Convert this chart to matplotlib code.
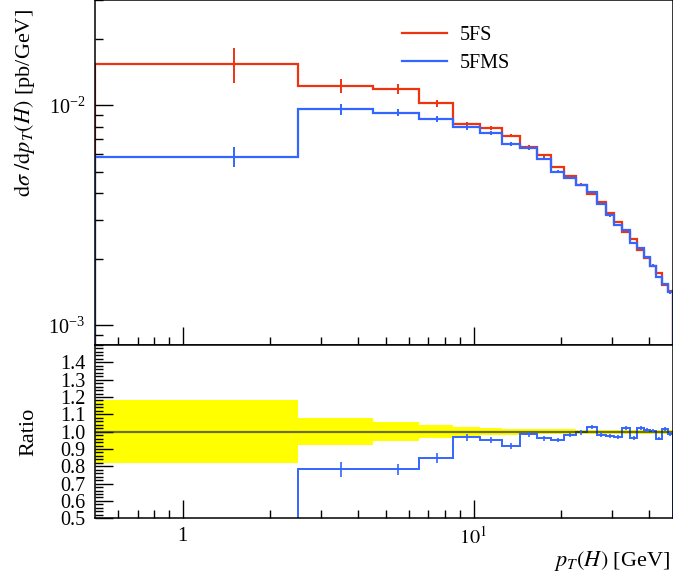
import numpy as np
import matplotlib
matplotlib.use("Agg")
import matplotlib.pyplot as plt
from matplotlib.ticker import FixedLocator, FuncFormatter, MultipleLocator, NullFormatter

plt.rcParams['font.family'] = ['Liberation Serif', 'DejaVu Serif']
plt.rcParams['mathtext.fontset'] = 'stix'

# bin edges in pT(H) [GeV]
edges = [0.5, 2.5, 4.5, 6.5, 8.5, 10.5, 12.5, 14.5, 16.5, 18.5, 20.5, 22.5, 24.5,
         26.5, 28.5, 30.5, 32.5, 34.5, 36.5, 38.5, 40.5, 42.5, 44.5, 46.5, 48.5]

# dsigma/dpT [pb/GeV]
fs5 = [0.01540, 0.01228, 0.01186, 0.01024, 0.00820, 0.00789, 0.00727, 0.00648,
       0.00594, 0.00524, 0.00477, 0.00436, 0.00394, 0.00362, 0.00324, 0.00295,
       0.00266, 0.00246, 0.00219, 0.00202, 0.00186, 0.00173, 0.00152, 0.00143]
fms5 = [0.00584, 0.00960, 0.00927, 0.00868, 0.00793, 0.00751, 0.00668, 0.00638,
        0.00571, 0.00499, 0.00467, 0.00434, 0.00404, 0.00356, 0.00316, 0.00286,
        0.00271, 0.00237, 0.00224, 0.00204, 0.00187, 0.00166, 0.00154, 0.00141]

# relative errors
fs5_relerr = [0.18, 0.077, 0.055, 0.037, 0.027, 0.021, 0.018, 0.016, 0.015, 0.014,
              0.013, 0.012, 0.012, 0.012, 0.012, 0.011, 0.011, 0.011, 0.011, 0.011,
              0.011, 0.011, 0.011, 0.011]
fms5_relerr = [0.105, 0.057, 0.040, 0.031, 0.022, 0.020, 0.018, 0.016, 0.015, 0.014,
               0.013, 0.013, 0.012, 0.012, 0.012, 0.011, 0.011, 0.011, 0.011, 0.011,
               0.011, 0.011, 0.011, 0.011]

red = '#EE3311'
blue = '#3366FF'

e = np.array(edges)
mid = 0.5 * (e[:-1] + e[1:])
r = np.array(fs5)
b = np.array(fms5)
rerr = np.array(fs5_relerr)
berr = np.array(fms5_relerr)

fig = plt.figure(figsize=(6.73, 5.8), dpi=100)
ax = fig.add_axes([0.1412, 0.4052, 0.8588, 0.5948])
axr = fig.add_axes([0.1412, 0.1064, 0.8588, 0.2988], sharex=ax)

# main panel
ax.stairs(r, e, color=red, lw=1.6, label='5FS')
ax.errorbar(mid, r, yerr=r * rerr, fmt='none', ecolor=red, elinewidth=1.4)
ax.stairs(b, e, color=blue, lw=1.6, label='5FMS')
ax.errorbar(mid, b, yerr=b * berr, fmt='none', ecolor=blue, elinewidth=1.4)

ax.set_xscale('log')
ax.set_yscale('log')
ax.set_xlim(0.5, 48.5)
ax.set_ylim(8.14e-4, 0.0301)

ax.legend(loc='upper left', bbox_to_anchor=(0.531, 0.925), frameon=False,
          fontsize=14.5, handlelength=2.25, handletextpad=0.6, labelspacing=0.45,
          borderpad=0, borderaxespad=0)

fig.text(0.037, 1 - 197 / 580, r'$\mathrm{d}\sigma\ /\mathrm{d}p_T(H)$ [pb/GeV]',
         rotation=90, ha='center', va='bottom', fontsize=16)

# ratio panel
ratio = b / r
axr.stairs(1 + rerr, e, baseline=1 - rerr, fill=True, color='#FFFF00', lw=0)
axr.axhline(1.0, color='#222222', alpha=0.65, lw=1.6)
axr.stairs(ratio, e, color=blue, lw=1.4)
axr.errorbar(mid, ratio, yerr=b * berr / r, fmt='none', ecolor=blue, elinewidth=1.2)
axr.set_ylim(0.5, 1.5)
axr.set_yticks(np.arange(0.5, 1.45, 0.1))
axr.yaxis.set_major_formatter(FuncFormatter(lambda v, p: '%.1f' % v))
axr.yaxis.set_minor_locator(MultipleLocator(0.02))

axr.set_xticks([1, 10])
axr.xaxis.set_major_formatter(FuncFormatter(lambda v, p: '1' if v < 5 else r'$10^{1}$'))
axr.xaxis.set_minor_locator(FixedLocator([0.6, 0.7, 0.8, 0.9, 2, 3, 4, 5, 6, 7, 8, 9, 20, 30, 40]))
axr.xaxis.set_minor_formatter(NullFormatter())
fig.text(28.5 / 673, 1 - 431.6 / 580, 'Ratio', rotation=90, ha='center', va='center',
         fontsize=16)

fig.text(0.996, 1 - 561 / 580, r'$p_T(H)$ [GeV]', ha='right', va='center', fontsize=16)

for a in (ax, axr):
    a.tick_params(which='major', direction='in', length=13, width=1.0, labelsize=14.5)
    a.tick_params(which='minor', direction='in', length=5.5, width=1.0)
    for s in a.spines.values():
        s.set_linewidth(1.1)
ax.tick_params(axis='x', which='both', labelbottom=False)
axr.tick_params(axis='x', which='both', pad=6)
ax.tick_params(axis='y', which='both', pad=7)
axr.tick_params(axis='y', which='both', pad=7)

fig.savefig('out.png', dpi=100)
